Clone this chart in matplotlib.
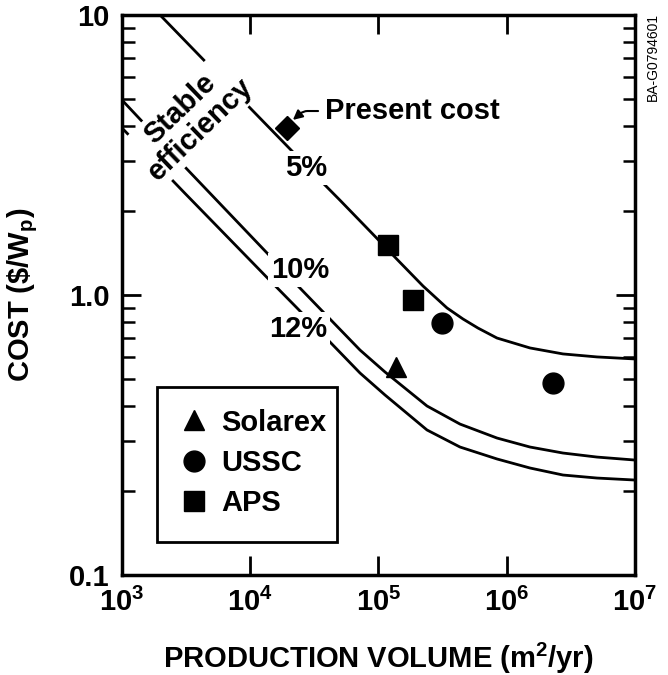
import matplotlib
matplotlib.use('Agg')
import matplotlib.pyplot as plt
from matplotlib.patches import Rectangle
from matplotlib.ticker import NullLocator, LogLocator, NullFormatter

plt.rcParams['font.family'] = 'Liberation Sans'
plt.rcParams['font.weight'] = 'bold'
plt.rcParams['axes.labelweight'] = 'bold'
plt.rcParams['mathtext.fontset'] = 'custom'
plt.rcParams['mathtext.rm'] = 'Liberation Sans:bold'
plt.rcParams['mathtext.it'] = 'Liberation Sans:bold'
plt.rcParams['mathtext.bf'] = 'Liberation Sans:bold'

FS = 21

# cost curves (production volume m2/yr, cost $/Wp)
v_eff5 = [1980, 6590, 10320, 21540, 36930, 50100, 93900, 141900, 222300,
          342100, 456000, 596800, 839500, 1.518e6, 2.745e6, 5.055e6, 1e7]
c_eff5 = [10.0, 5.67, 4.58, 3.24, 2.51, 2.18, 1.62, 1.33, 1.077,
          0.899, 0.821, 0.762, 0.702, 0.647, 0.616, 0.601, 0.591]

v_eff10 = [1000, 3098, 13510, 23150, 71770, 112400, 238900, 432100,
           839500, 1.518e6, 2.745e6, 5.055e6, 1e7]
c_eff10 = [4.97, 2.865, 1.413, 1.086, 0.636, 0.531, 0.4015, 0.346,
           0.3085, 0.2865, 0.2727, 0.2638, 0.2574]

v_eff12 = v_eff10
c_eff12 = [3.95, 2.307, 1.155, 0.899, 0.5265, 0.4395, 0.3296, 0.2865,
           0.2597, 0.2411, 0.2276, 0.2220, 0.2184]

# company data points
present_v = [19400]
present_c = [3.94]
solarex_v = [1.37e5]
solarex_c = [0.553]
ussc_v = [3.13e5, 2.30e6]
ussc_c = [0.794, 0.485]
aps_v = [1.19e5, 1.86e5]
aps_c = [1.51, 0.96]

xtick_vals = [1e3, 1e4, 1e5, 1e6, 1e7]
xtick_labels = [r'$\mathrm{10^{3}}$', r'$\mathrm{10^{4}}$', r'$\mathrm{10^{5}}$',
                r'$\mathrm{10^{6}}$', r'$\mathrm{10^{7}}$']
ytick_vals = [0.1, 1.0, 10]
ytick_labels = ['0.1', '1.0', '10']

fig = plt.figure(figsize=(6.68, 6.75), dpi=100)
ax = fig.add_axes([0.1826, 0.1481, 0.768, 0.8297])
ax.set_xscale('log')
ax.set_yscale('log')
ax.set_axisbelow(False)

for v, c in [(v_eff5, c_eff5), (v_eff10, c_eff10), (v_eff12, c_eff12)]:
    ax.plot(v, c, color='black', lw=2, zorder=2)

ax.plot(present_v, present_c, 'D', ms=12, color='black', zorder=4)
ax.plot(solarex_v, solarex_c, '^', ms=14, color='black', zorder=4, label='Solarex')
ax.plot(ussc_v, ussc_c, 'o', ms=15, color='black', zorder=4, label='USSC')
ax.plot(aps_v, aps_c, 's', ms=15, color='black', zorder=4, label='APS')

box = dict(fc='white', ec='none', pad=2)
ax.text(27200, 2.85, '5%', ha='center', va='center', fontsize=FS, bbox=box, zorder=2.2)
ax.text(24400, 1.23, '10%', ha='center', va='center', fontsize=FS, bbox=box, zorder=2.2)
ax.text(23500, 0.757, '12%', ha='center', va='center', fontsize=FS, bbox=box, zorder=2.2)
ax.text(3390, 4.25, 'Stable\nefficiency', rotation=44, rotation_mode='anchor',
        ha='center', va='center', fontsize=FS, linespacing=1.05, bbox=box, zorder=2.2)

ax.annotate('Present cost', xy=(21500, 4.22), xytext=(38300, 4.54),
            ha='left', va='center', fontsize=FS,
            arrowprops=dict(arrowstyle='-|>', color='black', lw=1.5,
                            connectionstyle='angle,angleA=0,angleB=40,rad=4',
                            shrinkA=3, shrinkB=0, mutation_scale=14))

ax.set_xlim(1e3, 1e7)
ax.set_ylim(0.1, 10)
ax.set_xticks(xtick_vals)
ax.set_xticklabels(xtick_labels)
ax.xaxis.set_minor_locator(NullLocator())
ax.set_yticks(ytick_vals)
ax.set_yticklabels(ytick_labels)
ax.yaxis.set_minor_locator(LogLocator(base=10, subs=range(2, 10)))
ax.yaxis.set_minor_formatter(NullFormatter())

ax.tick_params(which='major', direction='in', length=14, width=2,
               top=True, right=True, labelsize=FS)
ax.tick_params(axis='x', which='major', pad=9)
ax.tick_params(axis='y', which='major', pad=9)
ax.tick_params(axis='y', which='minor', direction='in', length=9, width=1.8,
               left=True, right=True)
for s in ax.spines.values():
    s.set_linewidth(2.5)

ax.set_xlabel(r'PRODUCTION VOLUME (m$^{\mathrm{2}}$/yr)', fontsize=FS)
ax.xaxis.set_label_coords(0.5, -0.117)
ax.set_ylabel(r'COST (\$/W$_{\mathrm{p}}$)', fontsize=FS)
ax.yaxis.set_label_coords(-0.16, 0.5)

ax.add_patch(Rectangle((0.0682, 0.0589), 0.351, 0.2768, transform=ax.transAxes,
                       fill=False, lw=2, ec='black', zorder=3))
ax.legend(loc='upper left', bbox_to_anchor=(0.111, 0.297), frameon=False,
          fontsize=FS, handlelength=1.0, handletextpad=0.45, labelspacing=0.42,
          borderaxespad=0, borderpad=0, numpoints=1)

fig.text(653 / 668, 1 - 57 / 675, 'BA-G0794601', rotation=90, ha='center',
         va='center', fontsize=10, fontweight='normal')

fig.savefig('out.png', dpi=100)
